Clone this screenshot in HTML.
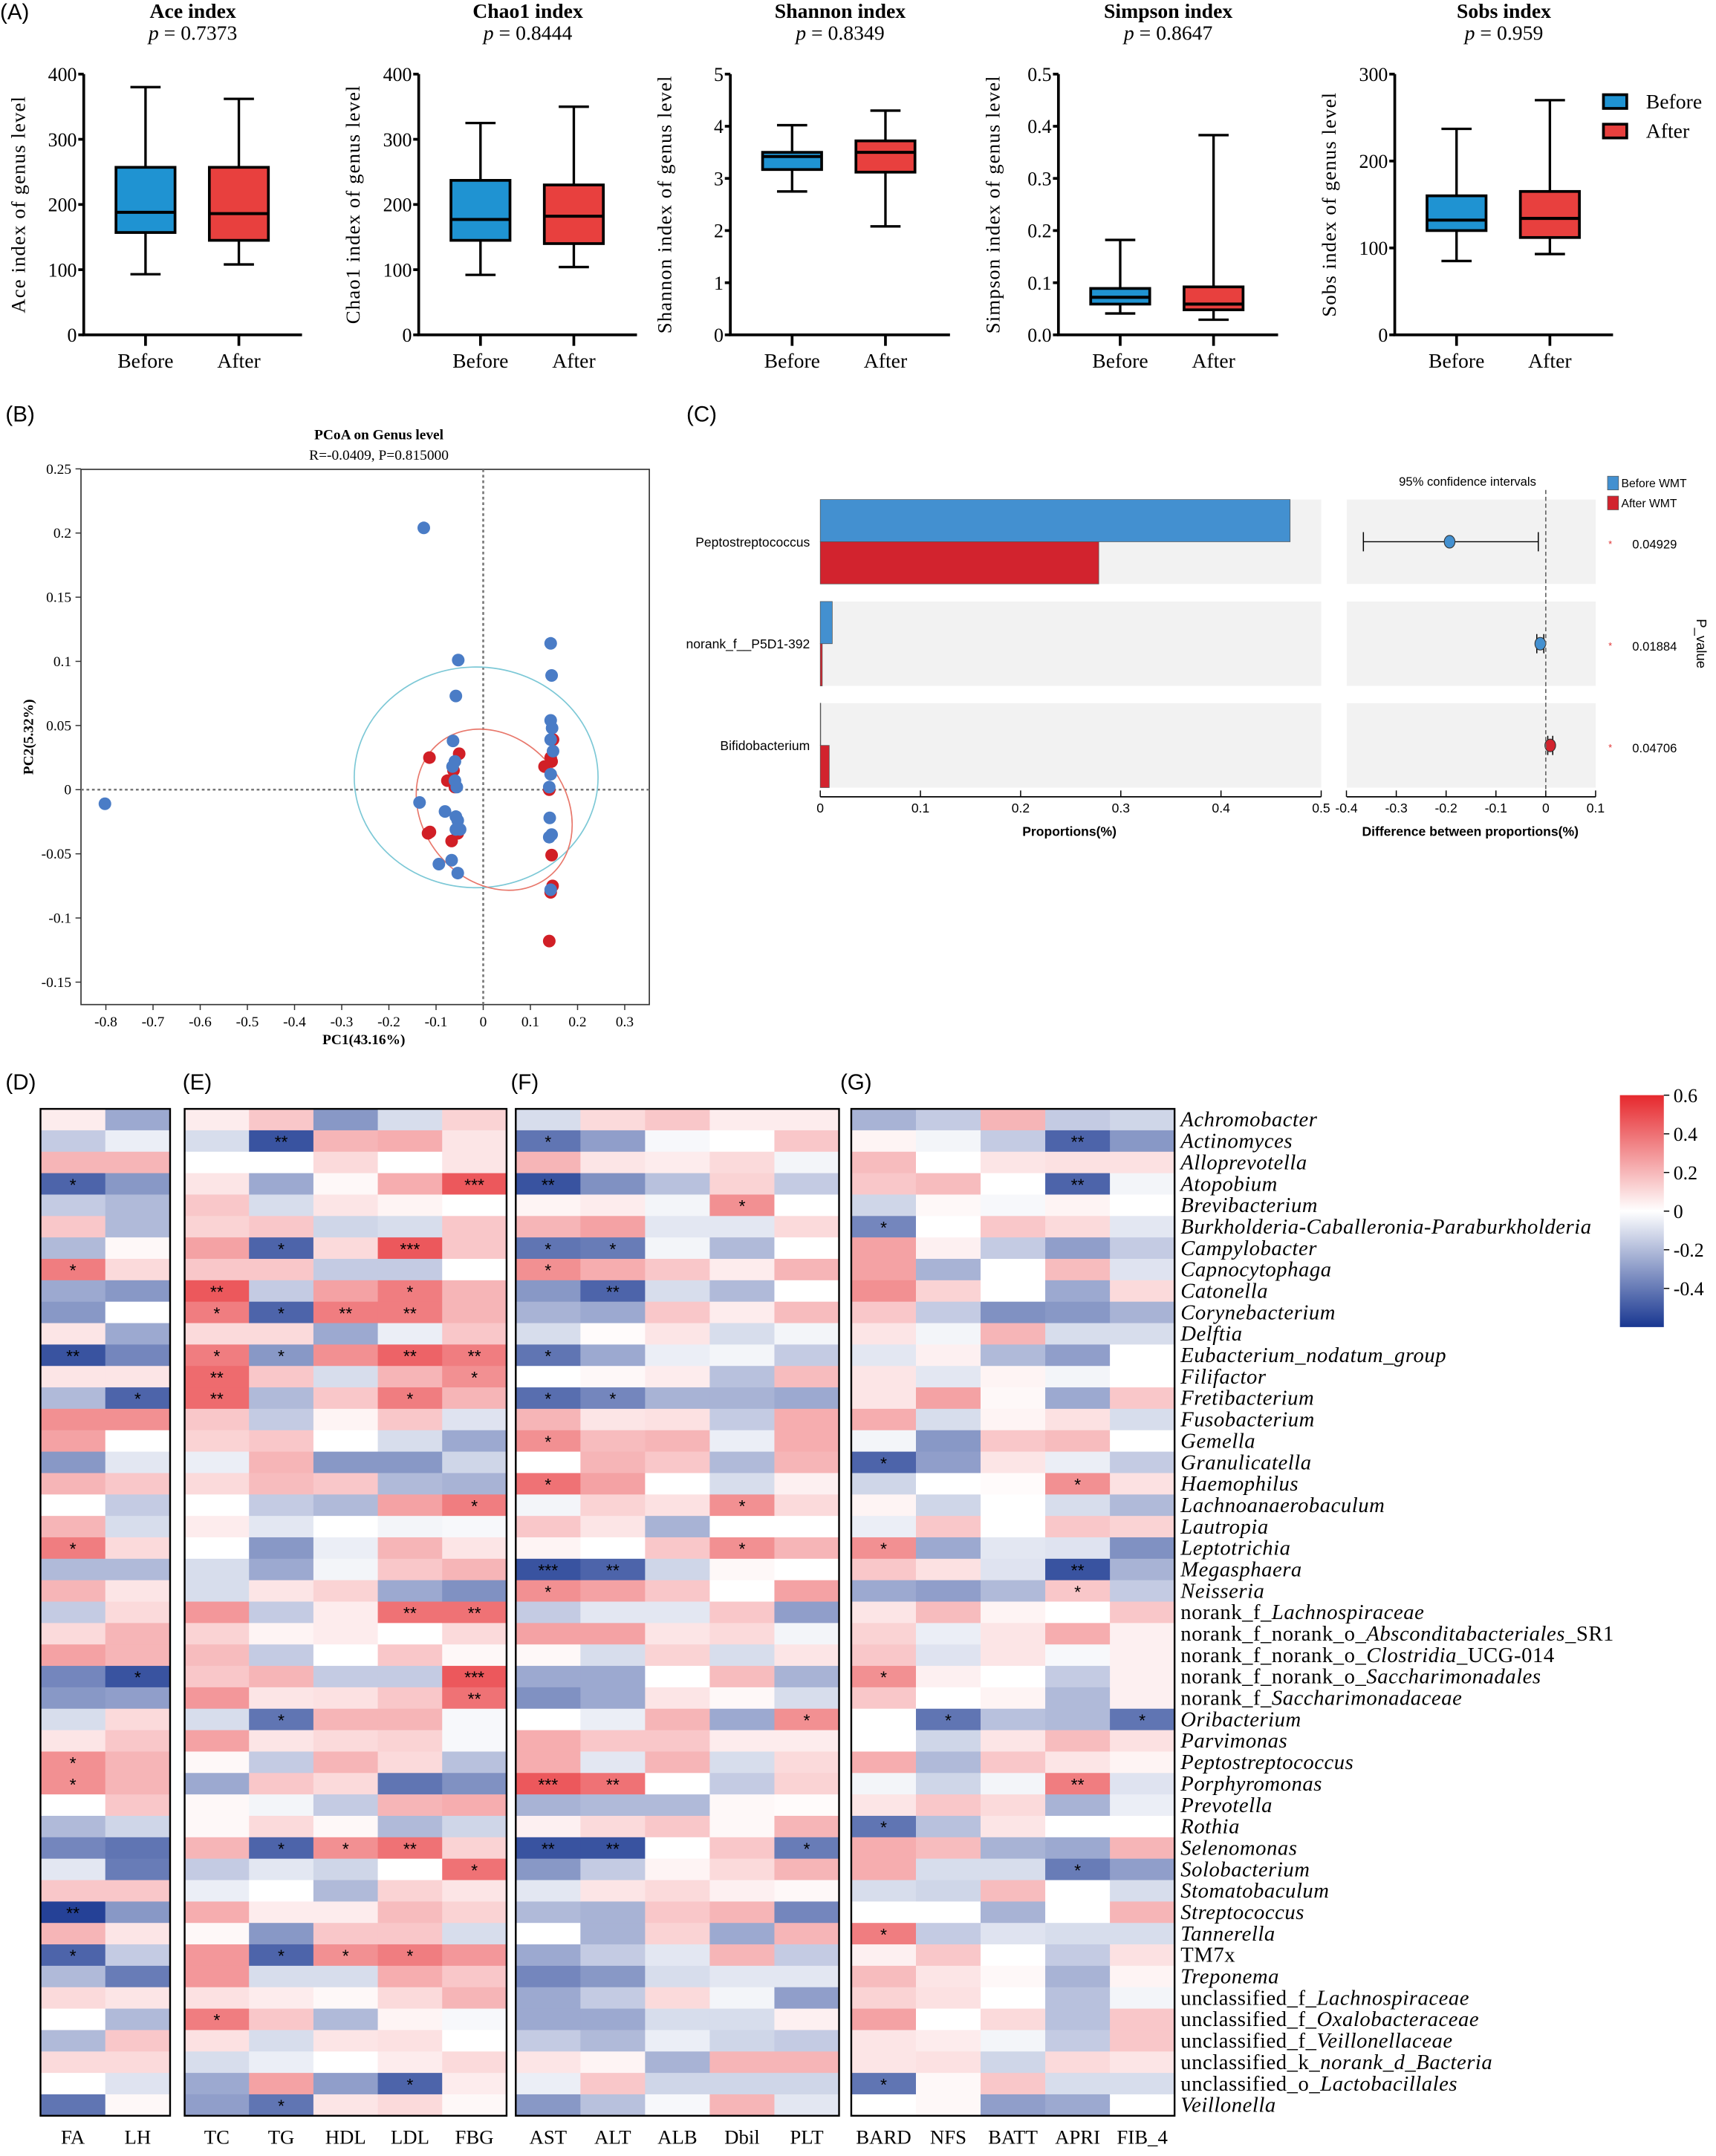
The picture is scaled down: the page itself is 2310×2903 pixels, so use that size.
<!DOCTYPE html>
<html><head><meta charset="utf-8">
<style>
html,body{margin:0;padding:0;background:#fff;}
svg{display:block;}
text{font-family:"Liberation Serif",serif;fill:#000;}
.sans{font-family:"Liberation Sans",sans-serif;}
</style></head>
<body>
<svg id="fig" xmlns="http://www.w3.org/2000/svg" width="2310" height="2903" viewBox="0 0 1250 1571" preserveAspectRatio="none">
<defs>
<linearGradient id="cbar" x1="0" y1="0" x2="0" y2="1">
<stop offset="0" stop-color="rgb(230,40,45)"/>
<stop offset="0.5" stop-color="#ffffff"/>
<stop offset="1" stop-color="rgb(25,55,145)"/>
</linearGradient>
</defs>
<rect x="0" y="0" width="1250" height="1571" fill="#fff"/>
<text class="sans" x="0" y="14" font-size="16">(A)</text>
<text class="sans" x="4" y="307" font-size="16">(B)</text>
<text class="sans" x="500" y="307" font-size="16">(C)</text>
<text class="sans" x="4" y="794" font-size="16">(D)</text>
<text class="sans" x="133" y="794" font-size="16">(E)</text>
<text class="sans" x="372" y="794" font-size="16">(F)</text>
<text class="sans" x="612" y="794" font-size="16">(G)</text>
</svg>
<script>
// ===== Panel A data =====
const boxTitles=['Ace index','Chao1 index','Shannon index','Simpson index','Sobs index'];
const boxP=['0.7373','0.8444','0.8349','0.8647','0.959'];
const boxYTitles=['Ace index of genus level','Chao1 index of genus level','Shannon index of genus level','Simpson index of genus level','Sobs index of genus level'];
const groups=['Before','After'];
const beforeStats=[[93,157,188,257,380],[92,145,177,237,325],[2.75,3.17,3.42,3.5,4.02],[0.041,0.059,0.072,0.089,0.182],[85,120,132,160,237]];
const afterStats=[[108,145,186,257,362],[104,140,182,230,350],[2.08,3.12,3.5,3.72,4.3],[0.029,0.048,0.059,0.092,0.383],[93,112,134,165,270]];
const yTicks=[[0,100,200,300,400],[0,100,200,300,400],[0,1,2,3,4,5],[0,0.1,0.2,0.3,0.4,0.5],[0,100,200,300]];
const yTickLabels=[['0','100','200','300','400'],['0','100','200','300','400'],['0','1','2','3','4','5'],['0.0','0.1','0.2','0.3','0.4','0.5'],['0','100','200','300']];

// ===== Panel B data =====
const bluePC1=[-0.802,-0.126,-0.053,-0.058,-0.064,-0.06,-0.065,-0.06,-0.056,-0.135,-0.081,-0.058,-0.054,-0.058,-0.049,-0.094,-0.067,-0.054,0.143,0.145,0.143,0.146,0.143,0.148,0.143,0.14,0.141,0.145,0.14,0.143];
const bluePC2=[-0.011,0.204,0.101,0.073,0.038,0.022,0.018,0.007,0.002,-0.010,-0.017,-0.021,-0.024,-0.031,-0.031,-0.058,-0.055,-0.065,0.114,0.089,0.054,0.048,0.039,0.030,0.012,0.002,-0.022,-0.035,-0.037,-0.078];
const redPC1=[-0.114,-0.051,-0.063,-0.076,-0.06,-0.113,-0.117,-0.067,-0.054,0.148,0.143,0.145,0.13,0.14,0.145,0.147,0.143,0.14];
const redPC2=[0.025,0.028,0.015,0.007,0.002,-0.033,-0.034,-0.04,-0.034,0.039,0.025,0.022,0.018,0.0,-0.051,-0.075,-0.08,-0.118];
const pcXTicks=[-0.8,-0.7,-0.6,-0.5,-0.4,-0.3,-0.2,-0.1,0,0.1,0.2,0.3];
const pcYTicks=[0.25,0.2,0.15,0.1,0.05,0,-0.05,-0.1,-0.15];

// ===== Panel C data =====
const cSpecies=['Peptostreptococcus','norank_f__P5D1-392','Bifidobacterium'];
const beforeProp=[0.469,0.012,0.0005];
const afterProp=[0.278,0.002,0.009];
const diffProp=[-0.193,-0.011,0.009];
const ciLow=[-0.366,-0.018,0.004];
const ciHigh=[-0.015,-0.004,0.014];
const pVals=['0.04929','0.01884','0.04706'];
const propTicks=[0,0.1,0.2,0.3,0.4,0.5];
const diffTicks=[-0.4,-0.3,-0.2,-0.1,0,0.1];

// ===== Heatmap data =====
const species=['Achromobacter','Actinomyces','Alloprevotella','Atopobium','Brevibacterium','Burkholderia-Caballeronia-Paraburkholderia','Campylobacter','Capnocytophaga','Catonella','Corynebacterium','Delftia','Eubacterium_nodatum_group','Filifactor','Fretibacterium','Fusobacterium','Gemella','Granulicatella','Haemophilus','Lachnoanaerobaculum','Lautropia','Leptotrichia','Megasphaera','Neisseria','norank_f_|Lachnospiraceae','norank_f_norank_o_|Absconditabacteriales|_SR1','norank_f_norank_o_|Clostridia|_UCG-014','norank_f_norank_o_|Saccharimonadales','norank_f_|Saccharimonadaceae','Oribacterium','Parvimonas','Peptostreptococcus','Porphyromonas','Prevotella','Rothia','Selenomonas','Solobacterium','Stomatobaculum','Streptococcus','Tannerella','TM7x|','Treponema','unclassified_f_|Lachnospiraceae','unclassified_f_|Oxalobacteraceae','unclassified_f_|Veillonellaceae','unclassified_k_|norank_d_Bacteria','unclassified_o_|Lactobacillales','Veillonella'];
const colFA=[0.05,-0.15,0.2,-0.45,-0.15,0.15,-0.2,0.35,-0.25,-0.3,0.07,-0.5,0.07,-0.2,0.3,0.25,-0.3,0.2,0,0.2,0.35,-0.2,0.2,-0.15,0.1,0.25,-0.35,-0.3,-0.1,0.07,0.3,0.3,0,-0.2,-0.35,-0.07,0.15,-0.55,0.2,-0.45,-0.2,0.1,0,-0.2,0.1,0,-0.4];
const colLH=[-0.25,-0.05,0.2,-0.3,-0.2,-0.2,0.02,0.1,-0.3,0,-0.25,-0.35,0.07,-0.45,0.3,0,-0.07,0.15,-0.15,-0.1,0.1,-0.2,0.07,0.1,0.2,0.2,-0.5,-0.28,0.1,0.15,0.2,0.2,0.15,-0.12,-0.4,-0.38,0.15,-0.3,0.07,-0.15,-0.38,0.07,-0.2,0.15,0.1,-0.08,0.02];
const colTC=[0.05,-0.1,0,0.07,0.15,0.12,0.25,0.15,0.45,0.35,0.1,0.35,0.4,0.4,0.15,0.12,-0.05,0.1,0,0.05,0,-0.1,-0.1,0.28,0.12,0.18,0.15,0.28,-0.1,0.25,0.02,-0.25,0.02,0.02,0.2,-0.15,-0.05,0.22,0.02,0.28,0.28,0.08,0.35,0.08,-0.1,-0.25,-0.28];
const colTG=[0.15,-0.5,0,-0.25,-0.1,0.15,-0.45,0.15,-0.15,-0.45,0.1,-0.3,0.15,-0.2,-0.15,0.15,0.2,0.18,-0.15,-0.07,-0.3,-0.25,0.07,-0.15,0.03,-0.15,0.2,0.07,-0.4,0.07,-0.15,0.15,-0.03,0.1,-0.45,-0.07,0,0.05,-0.3,-0.45,-0.1,0.05,0.15,-0.1,-0.05,0.25,-0.4];
const colHDL=[-0.3,0.2,0.1,0.02,0.07,-0.12,0.1,-0.15,0.25,0.35,-0.25,0.3,-0.1,0.15,0.03,0,-0.3,0.15,-0.2,0,-0.05,-0.03,0.12,0.05,0.05,0,-0.15,0.08,0.2,0.1,0.2,0.1,-0.15,0.02,0.3,-0.12,-0.2,0.05,0.15,0.3,-0.1,0.02,-0.2,0.07,0,-0.28,0.07];
const colLDL=[-0.1,0.22,0,0.22,0.03,-0.1,0.45,-0.15,0.35,0.35,-0.05,0.42,0.2,0.35,0.15,-0.1,-0.3,-0.2,0.25,-0.03,0.2,0.15,-0.25,0.38,0,0.15,-0.15,0.15,0.2,0.12,0.1,-0.4,0.2,-0.2,0.38,0,0.12,0.18,0.15,0.35,0.22,0.1,0.03,0.08,0.05,-0.45,0.1];
const colFBG=[0.12,0.07,0.07,0.45,0,0.15,0.15,0,0.2,0.2,0.15,0.35,0.3,0.2,-0.08,-0.25,-0.12,-0.22,0.35,-0.02,0.07,0.2,-0.32,0.38,0.1,0.02,0.45,0.38,-0.02,-0.02,-0.18,-0.32,0.22,-0.12,0.12,0.38,0.07,0.12,-0.1,0.28,0.15,0.2,-0.02,0,0.1,0.05,0.02];
const colAST=[-0.1,-0.4,0.2,-0.5,0.03,0.2,-0.4,0.3,-0.3,-0.22,-0.1,-0.4,0,-0.42,0.2,0.3,0,0.38,-0.03,0.15,0.03,-0.5,0.3,-0.15,0.25,0.02,-0.25,-0.32,0,0.22,0.22,0.45,-0.22,0.04,-0.5,-0.3,-0.07,-0.2,0,-0.25,-0.35,-0.25,-0.25,-0.15,0.07,-0.05,-0.3];
const colALT=[0.1,-0.28,0.07,-0.32,0.05,0.25,-0.38,0.22,-0.45,-0.25,0.01,-0.25,0.02,-0.35,0.07,0.18,0.2,0.25,0.12,0.07,0,-0.45,0.25,-0.07,0.25,-0.1,-0.25,-0.25,-0.05,0.15,-0.07,0.38,-0.2,0.1,-0.5,-0.15,0.07,-0.22,-0.22,-0.15,-0.3,-0.15,-0.25,-0.2,0.03,0.15,-0.18];
const colALB=[0.15,-0.02,0.05,-0.18,-0.03,-0.07,-0.03,0.15,-0.1,0.15,0.07,-0.05,0.05,-0.22,0.08,0.2,0.15,0,0.08,-0.22,0.15,-0.12,0.15,-0.07,0.07,0.12,0,0.07,0.2,0.15,0.2,0,-0.2,0.15,0,0.03,0.1,0.15,0.12,-0.07,-0.1,0.1,-0.1,-0.05,-0.22,-0.12,-0.02];
const colDbil=[0.05,0,0.1,0.12,0.3,-0.07,-0.2,0.05,-0.2,0.05,-0.1,-0.03,-0.18,-0.22,-0.15,-0.05,-0.2,-0.1,0.3,0,0.3,0.02,0,0.15,0.1,-0.1,0.18,0.02,-0.25,0.05,-0.1,-0.15,0.02,0.02,0.15,0.1,0.04,0.2,-0.25,0.2,-0.07,-0.03,-0.1,-0.12,0.2,-0.12,0.2];
const colPLT=[0.05,0.15,-0.03,-0.15,0,0.1,0,0.2,0,0.18,-0.03,-0.15,0.18,-0.25,0.22,0.22,0.2,0.04,0.1,0,0.2,0,0.25,-0.28,-0.03,0.07,-0.22,-0.1,0.3,0.05,0.1,0.12,0.01,0.2,-0.38,0.2,0.02,-0.35,0.2,-0.15,-0.07,-0.28,0.04,-0.15,0.2,-0.12,-0.07];
const colBARD=[-0.22,0.03,0.18,0.15,-0.12,-0.35,0.25,0.25,0.3,0.15,0.07,-0.07,0.07,0.07,0.22,-0.03,-0.45,-0.12,0.03,-0.05,0.3,0.15,-0.25,0.07,0.12,0.15,0.3,0.15,0,0,0.22,-0.03,0.07,-0.4,0.22,0.22,-0.1,0,0.35,0.04,0.18,0.12,0.25,0.07,0.07,-0.4,0];
const colNFS=[-0.15,-0.03,0,0.18,0.02,0,0.04,-0.22,0.12,-0.15,-0.03,0.04,-0.07,0.25,-0.1,-0.3,-0.28,0,-0.12,0.15,-0.25,0.08,-0.28,0.18,-0.05,-0.08,0.04,0,-0.4,-0.12,-0.2,-0.12,0.15,-0.18,0.18,-0.1,-0.12,0,-0.15,0.15,0.07,0.08,0,0.05,0.08,0.02,0.02];
const colBATT=[0.2,-0.15,0.07,0,-0.02,0.15,-0.15,0,0,-0.32,0.2,-0.2,0.03,0.02,0.03,0.15,0.07,0.01,0,0,-0.07,-0.08,-0.2,0.03,0.07,0.07,0,0.03,-0.18,0.07,0.15,-0.03,0.1,0.07,-0.22,-0.1,0.18,-0.22,-0.08,0,0.02,0,0.1,-0.03,-0.12,0.15,-0.28];
const colAPRI=[-0.15,-0.45,0.08,-0.45,0.03,0.1,-0.28,0.18,-0.25,-0.3,-0.1,-0.28,-0.03,-0.25,0.08,0.18,-0.05,0.3,-0.1,0.15,-0.08,-0.5,0.15,0,0.22,-0.02,-0.15,-0.2,-0.2,0.18,0.07,0.35,-0.22,0,-0.25,-0.38,0,0,-0.1,-0.15,-0.22,-0.18,-0.18,-0.15,0.1,-0.1,-0.25];
const colFIB4=[-0.12,-0.3,0.08,-0.03,0,-0.07,-0.15,-0.08,0.1,-0.22,-0.1,0,0,0.15,-0.1,0,-0.15,0.08,-0.2,0.12,-0.32,-0.22,-0.15,0.15,0.04,0.04,0.04,0.04,-0.4,0.08,0.03,-0.08,-0.05,0,0.2,-0.28,-0.1,0.2,-0.1,0.08,0.03,-0.03,0.15,0.15,0.07,-0.1,0];
// significance marks: [row (1-based), label]
const sigFA=[[4,'*'],[8,'*'],[12,'**'],[21,'*'],[31,'*'],[32,'*'],[38,'**'],[40,'*']];
const sigLH=[[14,'*'],[27,'*']];
const sigTC=[[9,'**'],[10,'*'],[12,'*'],[13,'**'],[14,'**'],[43,'*']];
const sigTG=[[2,'**'],[7,'*'],[10,'*'],[12,'*'],[29,'*'],[35,'*'],[40,'*'],[47,'*']];
const sigHDL=[[10,'**'],[35,'*'],[40,'*']];
const sigLDL=[[7,'***'],[9,'*'],[10,'**'],[12,'**'],[14,'*'],[24,'**'],[35,'**'],[40,'*'],[46,'*']];
const sigFBG=[[4,'***'],[12,'**'],[13,'*'],[19,'*'],[24,'**'],[27,'***'],[28,'**'],[36,'*']];
const sigAST=[[2,'*'],[4,'**'],[7,'*'],[8,'*'],[12,'*'],[14,'*'],[16,'*'],[18,'*'],[22,'***'],[23,'*'],[32,'***'],[35,'**']];
const sigALT=[[7,'*'],[9,'**'],[14,'*'],[22,'**'],[32,'**'],[35,'**']];
const sigALB=[];
const sigDbil=[[5,'*'],[19,'*'],[21,'*']];
const sigPLT=[[29,'*'],[35,'*']];
const sigBARD=[[6,'*'],[17,'*'],[21,'*'],[27,'*'],[34,'*'],[39,'*'],[46,'*']];
const sigNFS=[[29,'*']];
const sigBATT=[];
const sigAPRI=[[2,'**'],[4,'**'],[18,'*'],[22,'**'],[23,'*'],[32,'**'],[36,'*']];
const sigFIB4=[[29,'*']];
const cbTicks=[0.6,0.4,0.2,0,-0.2,-0.4];
const cbTickLabels=['0.6','0.4','0.2','0','-0.2','-0.4'];

const NS='http://www.w3.org/2000/svg';
const svg=document.getElementById('fig');
function mk(tag,attrs,parent){const e=document.createElementNS(NS,tag);for(const k in attrs)e.setAttribute(k,attrs[k]);(parent||svg).appendChild(e);return e;}
function tx(str,attrs,parent){const e=mk('text',attrs,parent);e.textContent=str;return e;}

// ===== Panel A =====
const axX=[61,305,532,771,1016], axEnd=[220,464,692,931,1175];
const aTop=54, aBot=244;
const statsAll=[beforeStats,afterStats];
const fills=['#1f93d2','#e8403e'];
for(let i=0;i<5;i++){
  const g=mk('g',{});
  
  
  const ticks=yTicks[i], ymax=ticks[ticks.length-1];
  const ys=v=>aBot-(v/ymax)*(aBot-aTop);
  const cx=(axX[i]+axEnd[i])/2;
  const t1=tx(boxTitles[i],{x:cx,y:13,'font-size':15,'font-weight':'bold','text-anchor':'middle'},g);
  
  
  const t2=mk('text',{x:cx,y:29,'font-size':15,'text-anchor':'middle'},g);
  t2.innerHTML='<tspan font-style="italic">p</tspan> = '+boxP[i];
  
  
  const yt=tx(boxYTitles[i],{x:0,y:0,'font-size':14.5,'text-anchor':'middle','letter-spacing':'0.6',transform:`translate(${axX[i]-43},149) rotate(-90)`},g);
  
  
  const ax=mk('path',{d:`M${axX[i]},${aTop} V${aBot} H${axEnd[i]}`,stroke:'#000','stroke-width':2,fill:'none'},g);
  
  
  ticks.forEach((t,k)=>{
    mk('line',{x1:axX[i]-4,x2:axX[i],y1:ys(t),y2:ys(t),stroke:'#000','stroke-width':2},g);
    const tl=tx(yTickLabels[i][k],{x:axX[i]-5,y:ys(t)+5,'font-size':14,'text-anchor':'end'},g);
    
    
  });
  for(let gi=0;gi<2;gi++){
    const px=axX[i]+45+gi*68;
    const s=statsAll[gi][i];
    mk('line',{x1:px,x2:px,y1:aBot,y2:aBot+8,stroke:'#000','stroke-width':2},g);
    const gl=tx(groups[gi],{x:px,y:268,'font-size':15,'text-anchor':'middle'},g);
    
    
    const wk=mk('path',{d:`M${px},${ys(s[4])} V${ys(s[3])} M${px},${ys(s[1])} V${ys(s[0])} M${px-11},${ys(s[4])} H${px+11} M${px-11},${ys(s[0])} H${px+11}`,stroke:'#000','stroke-width':1.8,fill:'none'},g);
    
    
    const bx=mk('rect',{x:px-21.5,y:ys(s[3]),width:43,height:ys(s[1])-ys(s[3]),fill:fills[gi],stroke:'#000','stroke-width':2},g);
    
    
    const md=mk('line',{x1:px-22,x2:px+22,y1:ys(s[2]),y2:ys(s[2]),stroke:'#000','stroke-width':2.2},g);
    
    
  }
}
// legend A
groups.forEach((gname,gi)=>{
  const r=mk('rect',{x:1168,y:69+gi*21.5,width:17,height:10,fill:fills[gi],stroke:'#000','stroke-width':2});
  
  
  const t=tx(gname,{x:1199,y:79+gi*21.5,'font-size':15});
  
  
});

// ===== Panel B =====
const bX=v=>352+v*343.6, bY=v=>575.4-v*935;
const gB=mk('g',{});


const bt=tx('PCoA on Genus level',{x:276,y:320,'font-size':10.5,'font-weight':'bold','text-anchor':'middle'},gB);


const bs=tx('R=-0.0409, P=0.815000',{x:276,y:335,'font-size':10.5,'text-anchor':'middle'},gB);


const frame=mk('rect',{x:59,y:342,width:414,height:390,fill:'none',stroke:'#333','stroke-width':0.9},gB);


pcXTicks.forEach(t=>{
  mk('line',{x1:bX(t),x2:bX(t),y1:732,y2:736,stroke:'#333','stroke-width':0.8},gB);
  const l=tx(String(t),{x:bX(t),y:748,'font-size':10.5,'text-anchor':'middle'},gB);
  
  
});
pcYTicks.forEach(t=>{
  mk('line',{x1:55,x2:59,y1:bY(t),y2:bY(t),stroke:'#333','stroke-width':0.8},gB);
  const l=tx(String(t),{x:52,y:bY(t)+3.5,'font-size':10.5,'text-anchor':'end'},gB);
  
  
});
const bxl=tx('PC1(43.16%)',{x:265,y:761,'font-size':10.5,'font-weight':'bold','text-anchor':'middle'},gB);


const byl=tx('PC2(5.32%)',{x:0,y:0,'font-size':10.5,'font-weight':'bold','text-anchor':'middle',transform:'translate(24,537) rotate(-90)'},gB);


const hz=mk('line',{x1:59,x2:473,y1:bY(0),y2:bY(0),stroke:'#777','stroke-width':1.4,'stroke-dasharray':'2,2'},gB);


const vz=mk('line',{x1:bX(0),x2:bX(0),y1:342,y2:732,stroke:'#777','stroke-width':1.4,'stroke-dasharray':'2,2'},gB);


const e1=mk('ellipse',{cx:bX(-0.015),cy:bY(0.0096),rx:88.8,ry:80.4,fill:'none',stroke:'#7cc8d6','stroke-width':0.9},gB);


const e2=mk('ellipse',{cx:360,cy:590,rx:63,ry:52,transform:'rotate(50 360 590)',fill:'none',stroke:'#e8776b','stroke-width':0.9},gB);


redPC1.forEach((v,k)=>{
  const c=mk('circle',{cx:bX(v),cy:bY(redPC2[k]),r:4.6,fill:'#d11f26'},gB);
  
  
});
bluePC1.forEach((v,k)=>{
  const c=mk('circle',{cx:bX(v),cy:bY(bluePC2[k]),r:4.6,fill:'#4a7cc6'},gB);
  
  
});

// ===== Panel C =====
const gC=mk('g',{});


const pX=v=>597.5+v*729.8, dX=v=>1126+v*363;
const bandTop=[364,438.3,512.4], bandH=61.5;
cSpecies.forEach((sp,k)=>{
  const y0=bandTop[k];
  const b1=mk('rect',{x:597.5,y:y0,width:364.9,height:bandH,fill:'#f2f2f2'},gC);
  
  
  const b2=mk('rect',{x:981,y:y0,width:181.4,height:bandH,fill:'#f2f2f2'},gC);
  
  
  const r1=mk('rect',{x:597.5,y:y0,width:pX(beforeProp[k])-597.5,height:bandH/2,fill:'#4390d0',stroke:'#555','stroke-width':0.4},gC);
  
  
  const r2=mk('rect',{x:597.5,y:y0+bandH/2,width:pX(afterProp[k])-597.5,height:bandH/2,fill:'#d2232e',stroke:'#555','stroke-width':0.4},gC);
  
  
  const lab=tx(sp,{x:590,y:y0+bandH/2+3.5,'font-size':9.5,'text-anchor':'end',class:'sans'},gC);
  
  
  const cy=y0+bandH/2;
  const ci=mk('path',{d:`M${dX(ciLow[k])},${cy} H${dX(ciHigh[k])} M${dX(ciLow[k])},${cy-7} V${cy+7} M${dX(ciHigh[k])},${cy-7} V${cy+7}`,stroke:'#000','stroke-width':0.8,fill:'none'},gC);
  
  
  const pt=mk('ellipse',{cx:dX(diffProp[k]),cy:cy,rx:3.9,ry:4.6,fill:diffProp[k]<0?'#4390d0':'#d2232e',stroke:'#333','stroke-width':0.6},gC);
  
  
  const st=tx('*',{x:1173,y:cy+4,'font-size':7,'text-anchor':'middle',class:'sans',style:'fill:#e03030'},gC);
  
  
  const pv=tx(pVals[k],{x:1189,y:cy+5,'font-size':9,class:'sans'},gC);
  
  
});
const dl=mk('line',{x1:dX(0),x2:dX(0),y1:357,y2:576,stroke:'#666','stroke-width':0.9,'stroke-dasharray':'3,2'},gC);


const axl=mk('line',{x1:597.5,x2:962.4,y1:580.6,y2:580.6,stroke:'#000','stroke-width':1},gC);


const axr=mk('line',{x1:981,x2:1162.4,y1:580.6,y2:580.6,stroke:'#000','stroke-width':1},gC);


propTicks.forEach(t=>{
  mk('line',{x1:pX(t),x2:pX(t),y1:576,y2:580.6,stroke:'#000','stroke-width':0.8},gC);
  const l=tx(String(t),{x:pX(t),y:592,'font-size':9.5,'text-anchor':'middle',class:'sans'},gC);
  
  
});
diffTicks.forEach(t=>{
  mk('line',{x1:dX(t),x2:dX(t),y1:576,y2:580.6,stroke:'#000','stroke-width':0.8},gC);
  const l=tx(String(t),{x:dX(t),y:592,'font-size':9.5,'text-anchor':'middle',class:'sans'},gC);
  
  
});
const ct1=tx('Proportions(%)',{x:779,y:609,'font-size':9.5,'font-weight':'bold','text-anchor':'middle',class:'sans'},gC);


const ct2=tx('Difference between proportions(%)',{x:1071,y:609,'font-size':9.5,'font-weight':'bold','text-anchor':'middle',class:'sans'},gC);


const ct3=tx('95% confidence intervals',{x:1069,y:354,'font-size':9,'text-anchor':'middle',class:'sans'},gC);


const ct4=tx('P_value',{x:0,y:0,'font-size':10,'text-anchor':'middle',class:'sans',transform:'translate(1236,469) rotate(90)'},gC);


[['Before WMT','#4390d0'],['After WMT','#d2232e']].forEach((e,k)=>{
  const r=mk('rect',{x:1171,y:347+k*14.5,width:8,height:10,fill:e[1],stroke:'#555','stroke-width':0.4},gC);
  
  
  const t=tx(e[0],{x:1181,y:355+k*14.5,'font-size':8.5,class:'sans'},gC);
  
  
});

// ===== Heatmaps =====
const hmTop=808, rowH=15.61;
function cellColor(v){
  const f=Math.min(1,Math.abs(v)/0.58);
  const end=v>=0?[230,40,45]:[25,55,145];
  const c=end.map(e=>Math.round(255-f*(255-e)));
  return `rgb(${c[0]},${c[1]},${c[2]})`;
}
const panels=[
  {name:'d',x0:29.5,w:47.2,cols:[['FA',colFA,sigFA],['LH',colLH,sigLH]]},
  {name:'e',x0:134.5,w:46.9,cols:[['TC',colTC,sigTC],['TG',colTG,sigTG],['HDL',colHDL,sigHDL],['LDL',colLDL,sigLDL],['FBG',colFBG,sigFBG]]},
  {name:'f',x0:375.7,w:47.1,cols:[['AST',colAST,sigAST],['ALT',colALT,sigALT],['ALB',colALB,sigALB],['Dbil',colDbil,sigDbil],['PLT',colPLT,sigPLT]]},
  {name:'g',x0:620.1,w:47.1,cols:[['BARD',colBARD,sigBARD],['NFS',colNFS,sigNFS],['BATT',colBATT,sigBATT],['APRI',colAPRI,sigAPRI],['FIB_4',colFIB4,sigFIB4]]}
];
panels.forEach(p=>{
  const g=mk('g',{});
  
  
  p.cols.forEach((col,ci)=>{
    const x=p.x0+ci*p.w;
    col[1].forEach((v,ri)=>{
      const r=mk('rect',{x:x,y:hmTop+ri*rowH,width:p.w+0.3,height:rowH+0.3,fill:cellColor(v)},g);
      
      
    });
    col[2].forEach(s=>{
      const t=tx(s[1],{x:x+p.w/2,y:hmTop+(s[0]-0.5)*rowH+5,'font-size':12.5,'text-anchor':'middle',class:'sans'},g);
      
      
    });
    const cl=tx(col[0],{x:x+p.w/2,y:1562,'font-size':14.5,'text-anchor':'middle'},g);
    
    
  });
  const fr=mk('rect',{x:p.x0,y:hmTop,width:p.cols.length*p.w,height:47*rowH,fill:'none',stroke:'#000','stroke-width':1.3},g);
  
  
});
species.forEach((sp,ri)=>{
  const t=mk('text',{x:860,y:hmTop+(ri+0.5)*rowH+5,'font-size':15.5,'letter-spacing':'0.3'});
  
  
  const parts=sp.split('|');
  if(parts.length===1){t.setAttribute('font-style','italic');t.textContent=sp;}
  else{
    parts.forEach((pt,k)=>{
      if(!pt)return;
      const ts=mk('tspan',{},t);
      if(k%2===1)ts.setAttribute('font-style','italic');
      ts.textContent=pt;
    });
  }
});
// colorbar
const cb=mk('rect',{x:1180,y:798,width:32,height:169,fill:'url(#cbar)'});


const cbY=v=>882.5-v*140.8;
cbTicks.forEach((t,k)=>{
  mk('line',{x1:1212,x2:1216,y1:cbY(t),y2:cbY(t),stroke:'#000','stroke-width':0.8});
  const l=tx(cbTickLabels[k],{x:1219,y:cbY(t)+5,'font-size':14});
  
  
});
</script>
</body></html>
